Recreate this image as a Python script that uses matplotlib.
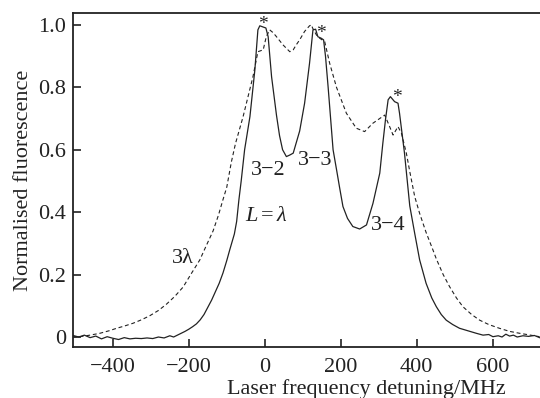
import matplotlib
matplotlib.use("Agg")
import matplotlib.pyplot as plt
from matplotlib.ticker import FixedLocator

plt.rcParams['font.family'] = ['Liberation Serif', 'DejaVu Serif']
plt.rcParams['mathtext.fontset'] = 'custom'
plt.rcParams['mathtext.it'] = 'Liberation Serif:italic'
plt.rcParams['mathtext.rm'] = 'Liberation Serif'

# L = lambda (solid)
solid_x = [-505, -490, -475, -460, -445, -430, -415, -400, -385, -370, -355, -340, -325, -310,
           -295, -280, -265, -250, -240, -230, -220, -210, -200, -190, -180, -170, -160, -150,
           -140, -130, -120, -110, -100, -92, -80, -74, -68, -62, -53, -39, -26, -18, -13,
           -4, 3, 9, 18, 31, 39, 47, 57, 66, 75, 92, 105, 118, 127, 134, 140, 149, 155,
           160, 167, 180, 190, 197, 206, 218, 232, 250, 268, 285, 303, 311, 318, 325, 331, 342, 351,
           355, 368, 382, 395, 408, 425, 440, 452, 465, 478, 495, 513, 535, 557, 575, 590, 601,
           615, 625, 635, 645, 655, 665, 680, 695, 710, 724]
solid_y = [0.005, 0.0, 0.006, -0.002, 0.003, -0.006, 0.001, -0.004, -0.008, -0.002, -0.006, -0.004,
           -0.005, -0.003, -0.005, 0.0, -0.003, 0.004, 0.0, 0.006, 0.012, 0.018, 0.025, 0.033, 0.042,
           0.055, 0.072, 0.095, 0.118, 0.145, 0.172, 0.205, 0.245, 0.28, 0.33, 0.37, 0.44, 0.5, 0.6,
           0.706, 0.856, 0.984, 0.997, 0.993, 0.99, 0.962, 0.834, 0.71, 0.645, 0.6, 0.578,
           0.583, 0.589, 0.66, 0.749, 0.877, 0.984, 0.986, 0.962, 0.957, 0.952, 0.9, 0.8,
           0.6, 0.53, 0.48, 0.418, 0.38, 0.354, 0.346, 0.359, 0.428, 0.525, 0.62, 0.696, 0.76, 0.77,
           0.754, 0.749, 0.717, 0.59, 0.42, 0.332, 0.247, 0.172, 0.125, 0.097, 0.072, 0.054, 0.04,
           0.028, 0.02, 0.012, 0.006, 0.008, 0.001, 0.004, 0.0, 0.009, 0.003, 0.006, 0.0, 0.004,
           0.002, 0.005, -0.002]

# 3 lambda (dashed)
dash_x = [-505, -487, -460, -434, -410, -390, -370, -347, -325, -303, -280, -259, -237, -215, -195,
          -171, -155, -136, -122, -110, -100, -88, -77, -57, -31, -18, -4, 4, 13, 22, 31,
          48, 66, 75, 83, 92, 105, 118, 123, 126, 136, 145, 158, 171, 189, 215,
          241, 263, 285, 316, 329, 338, 351, 360, 373, 382,
          395, 408, 425, 443, 452, 470, 487, 505, 522, 545, 566, 590, 618, 645, 671, 700, 724]
dash_y = [0.0, 0.001, 0.006, 0.012, 0.02, 0.028, 0.035, 0.044, 0.055, 0.068, 0.085, 0.105, 0.13,
          0.16, 0.2, 0.247, 0.29, 0.34, 0.39, 0.44, 0.48, 0.56, 0.62, 0.706, 0.834, 0.914,
          0.92, 0.962, 0.984, 0.975, 0.962, 0.936, 0.914, 0.92, 0.936, 0.952, 0.979, 0.997, 1.0,
          0.99, 0.968, 0.957, 0.946, 0.877, 0.8, 0.717, 0.669, 0.658, 0.685, 0.711, 0.674, 0.647,
          0.674, 0.653, 0.589, 0.53, 0.45, 0.396, 0.335, 0.279, 0.25, 0.2, 0.161, 0.125, 0.097,
          0.072, 0.054, 0.04, 0.028, 0.018, 0.012, 0.006, 0.001]

x_ticks = [-400, -200, 0, 200, 400, 600]
x_ticklabels = ['\u2212400', '\u2212200', '0', '200', '400', '600']
y_ticks = [0, 0.2, 0.4, 0.6, 0.8, 1.0]
y_ticklabels = ['0', '0.2', '0.4', '0.6', '0.8', '1.0']

star_pos = [(-6, 1.0), (149, 0.972), (347, 0.768)]
line_labels = [('3\u22122', 10, 0.535), ('3\u22123', 132, 0.564), ('3\u22124', 326, 0.356),
               ('$L = \\lambda$', 3, 0.385), ('3\u03bb', -216, 0.253)]

fig = plt.figure(figsize=(5.4, 3.98), dpi=100)
ax = fig.add_axes([73/540, 51/398, 1 - 73/540, (347 - 13)/398])

col = '#222222'
ax.plot(dash_x, dash_y, color=col, lw=0.8, linestyle=(0, (3.5, 2.5)))
ax.plot(solid_x, solid_y, color=col, lw=0.9)

ax.set_xlim(-505, 725)
ax.set_ylim(-0.032, 1.038)

ax.xaxis.set_major_locator(FixedLocator(x_ticks))
ax.set_xticklabels(x_ticklabels)
ax.yaxis.set_major_locator(FixedLocator(y_ticks))
ax.set_yticklabels(y_ticklabels)
ax.tick_params(direction='in', length=6, width=1.2, labelsize=16, colors=col, pad=5)
ax.tick_params(axis='x', pad=8)

for s in ['left', 'bottom', 'top']:
    ax.spines[s].set_linewidth(1.3)
    ax.spines[s].set_color(col)
ax.spines['right'].set_visible(False)

for (sx, sy) in star_pos:
    ax.text(sx, sy, '*', fontsize=14, ha='center', va='center', color=col)
for (t, tx, ty) in line_labels:
    ax.text(tx, ty, t, fontsize=16, ha='center', va='center', color=col)

ax.set_ylabel('Normalised fluorescence', fontsize=16, color=col)
ax.yaxis.set_label_coords(-0.086, 0.5)
ax.set_xlabel('Laser frequency detuning/MHz', fontsize=16, color=col)
ax.xaxis.set_label_coords((366 - 73) / (540 - 73), -0.095)

fig.savefig('out.png', dpi=100)
